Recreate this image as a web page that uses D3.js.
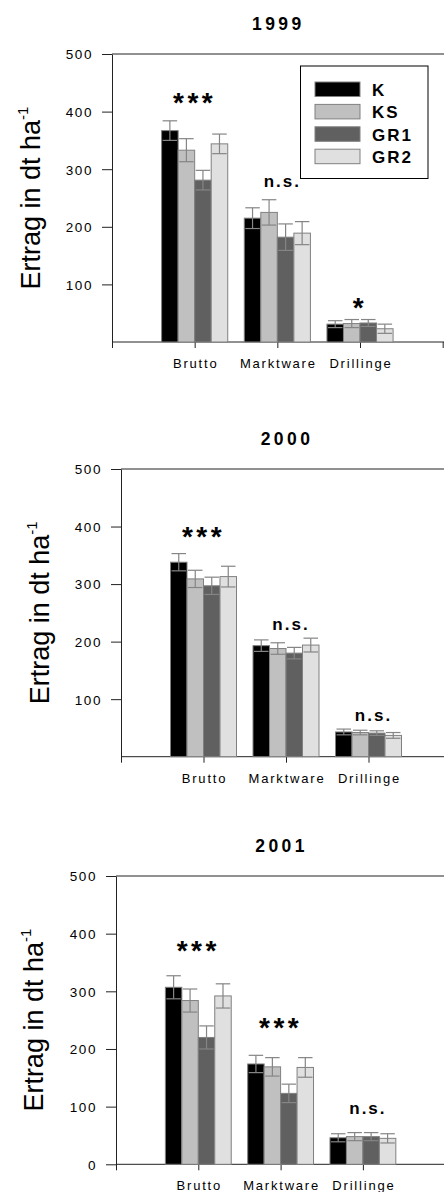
<!DOCTYPE html>
<html>
<head>
<meta charset="utf-8">
<script src="https://cdn.jsdelivr.net/npm/d3@7"></script>
<style>
  body { margin: 0; background: #fff; }
  text { font-family: Arial, "Liberation Sans", sans-serif; fill: #000; }
</style>
</head>
<body>
<div id="chart"></div>
<script>
// categories and treatments
const groups = ["Brutto", "Marktware", "Drillinge"];
const treatments = ["K", "KS", "GR1", "GR2"];
const years = ["1999", "2000", "2001"];
const yTicks = [100, 200, 300, 400, 500];
const yTicks2001 = [0, 100, 200, 300, 400, 500];

// means [group][treatment] in dt/ha
const means1999 = [[367, 333, 281, 344], [215, 225, 182, 189], [31, 32, 33, 23]];
const errors1999 = [[17, 20, 17, 17], [18, 22, 23, 20], [6, 7, 6, 8]];
const means2000 = [[338, 309, 297, 313], [193, 188, 180, 194], [43, 42, 41, 37]];
const errors2000 = [[15, 15, 15, 18], [10, 10, 10, 12], [5, 4, 4, 5]];
const means2001 = [[307, 284, 220, 292], [174, 169, 123, 168], [46, 48, 48, 45]];
const errors2001 = [[20, 20, 20, 21], [15, 16, 16, 17], [7, 7, 7, 8]];

// significance labels and the height (dt/ha) they sit at
const signif1999 = ["***", "n.s.", "*"];
const signifAt1999 = [426, 277, 70];
const signif2000 = ["***", "n.s.", "n.s."];
const signifAt2000 = [392, 229, 70];
const signif2001 = ["***", "***", "n.s."];
const signifAt2001 = [380, 247, 96];

const fills = ["#000000", "#c0c0c0", "#606060", "#e0e0e0"];

// layout of the three panels
const W = 444, H = 1192;
const panels = [
  { year: years[0], means: means1999, errors: errors1999, signif: signif1999, signifAt: signifAt1999, ticks: yTicks,
    axisX: 112, top: 54, base: 342, step: 82.67, labelX: 40, legend: true },
  { year: years[1], means: means2000, errors: errors2000, signif: signif2000, signifAt: signifAt2000, ticks: yTicks,
    axisX: 121, top: 469, base: 756.7, step: 82.5, labelX: 49, legend: false },
  { year: years[2], means: means2001, errors: errors2001, signif: signif2001, signifAt: signifAt2001, ticks: yTicks2001,
    axisX: 116, top: 876, base: 1164.3, step: 82.3, labelX: 43, legend: false }
];

const svg = d3.select("#chart").append("svg")
  .attr("width", W)
  .attr("height", H);

panels.forEach(p => {
  const g = svg.append("g");

  let y = d3.scaleLinear().domain([0, 500]).range([p.base, p.top]);
  let x = d3.scaleLinear().domain([0, 4]).range([p.axisX, p.axisX + 4 * p.step]);
  let band = d3.scaleBand().domain(treatments).range([-0.4 * p.step, 0.4 * p.step]);

  // top frame line
  g.append("line")
    .attr("x1", p.axisX).attr("x2", W)
    .attr("y1", p.top).attr("y2", p.top)
    .attr("stroke", "#222");

  // y axis
  const yAxis = g.append("g")
    .attr("transform", "translate(" + p.axisX + ",0)")
    .call(d3.axisLeft(y).tickValues(p.ticks).tickSize(10).tickSizeOuter(0).tickPadding(9));
  yAxis.selectAll("path, line").attr("stroke", "#222");
  yAxis.selectAll("text")
    .style("font-size", "13.5px")
    .style("letter-spacing", "1.6px")
    .attr("fill", "#000")
    .attr("dy", "0.36em");

  // x axis
  const xAxis = g.append("g")
    .attr("transform", "translate(0," + p.base + ")")
    .call(d3.axisBottom(x).tickValues([0, 1, 2, 3, 4]).tickSize(6).tickSizeOuter(0).tickFormat(""));
  xAxis.selectAll("path, line").attr("stroke", "#222");
  xAxis.select(".domain").attr("d", "M" + p.axisX + ",0H" + W);

  // group labels
  g.selectAll(".glabel")
    .data(groups)
    .enter().append("text")
    .attr("x", (d, i) => x(i + 1) + 1)
    .attr("y", p.base + 26)
    .attr("text-anchor", "middle")
    .style("font-size", "13px")
    .style("letter-spacing", "1.8px")
    .text(d => d);

  // bars
  const cells = [];
  p.means.forEach((row, gi) => row.forEach((v, ti) => {
    cells.push({ gi: gi, ti: ti, v: v, e: p.errors[gi][ti] });
  }));

  g.selectAll(".bar")
    .data(cells)
    .enter().append("rect")
    .attr("x", d => x(d.gi + 1) + band(treatments[d.ti]))
    .attr("y", d => y(d.v))
    .attr("width", band.bandwidth())
    .attr("height", d => y(0) - y(d.v))
    .attr("fill", d => fills[d.ti])
    .attr("stroke", "#808080")
    .attr("stroke-width", 1);

  // error bars
  const eb = g.selectAll(".err")
    .data(cells)
    .enter().append("g")
    .attr("stroke", "#858585")
    .attr("stroke-width", 1.2);
  const cx = d => x(d.gi + 1) + band(treatments[d.ti]) + band.bandwidth() / 2;
  const hw = band.bandwidth() / 2 - 1;
  eb.append("line")
    .attr("x1", cx).attr("x2", cx)
    .attr("y1", d => y(d.v + d.e)).attr("y2", d => y(d.v - d.e));
  eb.append("line")
    .attr("x1", d => cx(d) - hw).attr("x2", d => cx(d) + hw)
    .attr("y1", d => y(d.v + d.e)).attr("y2", d => y(d.v + d.e));
  eb.append("line")
    .attr("x1", d => cx(d) - hw).attr("x2", d => cx(d) + hw)
    .attr("y1", d => y(d.v - d.e)).attr("y2", d => y(d.v - d.e));

  // significance
  g.selectAll(".sig")
    .data(p.signif)
    .enter().append("text")
    .attr("x", (d, i) => x(i + 1) + (d === "n.s." ? 5 : 0))
    .attr("y", (d, i) => y(p.signifAt[i]) + (d === "n.s." ? 5 : 15))
    .attr("text-anchor", "middle")
    .style("font-weight", "bold")
    .style("font-size", d => d === "n.s." ? "17px" : "28px")
    .style("letter-spacing", d => d === "n.s." ? "2px" : "3.5px")
    .text(d => d);

  // title
  g.append("text")
    .attr("x", x(2) + 1)
    .attr("y", p.top - 24)
    .attr("text-anchor", "middle")
    .style("font-weight", "bold")
    .style("font-size", "17.5px")
    .style("letter-spacing", "3.4px")
    .text(p.year);

  // y axis title
  const yl = g.append("text")
    .attr("transform", "translate(" + p.labelX + "," + ((p.top + p.base) / 2) + ") rotate(-90)")
    .attr("text-anchor", "middle")
    .style("font-size", "27px");
  yl.append("tspan").text("Ertrag in dt ha");
  yl.append("tspan").attr("dy", -12).style("font-size", "15px").text("-1");

  // legend
  if (p.legend) {
    const lg = g.append("g");
    lg.append("rect")
      .attr("x", 300.5).attr("y", 66)
      .attr("width", 127.5).attr("height", 112.5)
      .attr("fill", "#fff")
      .attr("stroke", "#000");
    const items = lg.selectAll(".item")
      .data(treatments)
      .enter().append("g")
      .attr("transform", (d, i) => "translate(315," + (82 + i * 22.4) + ")");
    items.append("rect")
      .attr("width", 45).attr("height", 14.5)
      .attr("fill", (d, i) => fills[i])
      .attr("stroke", "#808080");
    items.append("text")
      .attr("x", 57).attr("y", 14)
      .style("font-weight", "bold")
      .style("font-size", "17px")
      .style("letter-spacing", "2px")
      .text(d => d);
  }
});
</script>
</body>
</html>
